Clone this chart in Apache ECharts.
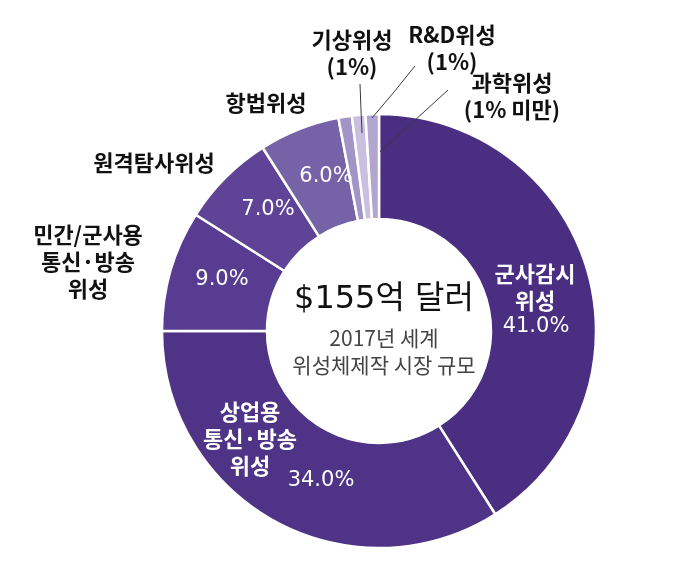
<!DOCTYPE html>
<html>
<head>
<meta charset="utf-8">
<script src="https://cdn.jsdelivr.net/npm/echarts@6/dist/echarts.min.js"></script>
<style>
html,body{margin:0;padding:0;background:#fff;}
#chart{width:674px;height:568px;}
</style>
</head>
<body>
<div id="chart"></div>
<script>
// ---- data ----
const categories = ['군사감시위성', '상업용 통신·방송 위성', '민간/군사용 통신·방송 위성', '원격탐사위성', '항법위성', '기상위성', 'R&D위성', '과학위성'];
const values = [41, 34, 9, 7, 6, 1, 1, 1];
const nameLabels = ['군사감시\n위성', '상업용\n통신·방송\n위성', '민간/군사용\n통신·방송\n위성', '원격탐사위성', '항법위성', '기상위성\n(1%)', 'R&D위성\n(1%)', '과학위성\n(1% 미만)'];
const pctLabels = ['41.0%', '34.0%', '9.0%', '7.0%', '6.0%', '', '', ''];
const centerTitle = '$155억 달러';
const centerSub = '2017년 세계\n위성체제작 시장 규모';

// ---- styles / positions ----
const colors = ['#4a2e82', '#4e3386', '#583c91', '#5e4396', '#7663a7', '#a294c6', '#c8c0de', '#b0a6d0'];
const nameColor = ['#fff', '#fff', '#111', '#111', '#111', '#111', '#111', '#111'];
const namePos = [[535, 287], [250, 439], [88, 262], [154, 163], [266, 103], [352, 53], [452, 48], [512, 96]];
const pctPos = [[536, 327], [321, 481], [222, 280], [268, 210], [326, 177]];
const linePts = {
  5: [[362, 133], [361, 110], [360, 84]],
  6: [[372, 118], [394, 92], [415, 66]],
  7: [[380, 152], [414, 121], [448, 90]]
};
const CENTER = [379, 331];
const RADIUS = [112, 217];

const chart = echarts.init(document.getElementById('chart'), null, {renderer: 'canvas'});

const pctData = categories.map((c, i) => ({
  name: c, value: values[i],
  itemStyle: {color: colors[i]}
}));
const nameData = categories.map((c, i) => ({
  name: c, value: values[i],
  labelLine: {show: i >= 5},
  label: {color: nameColor[i]}
}));

chart.setOption({
  animation: false,
  title: {
    text: centerTitle,
    subtext: centerSub,
    left: CENTER[0], top: 279, textAlign: 'center',
    itemGap: 9,
    textStyle: {fontFamily: 'DejaVu Sans, Noto Sans CJK KR', fontSize: 32, fontWeight: 'normal', color: '#111'},
    subtextStyle: {fontFamily: 'Noto Sans CJK KR', fontSize: 21, color: '#444', lineHeight: 27, align: 'center'}
  },
  series: [
    {
      type: 'pie', z: 2,
      center: CENTER, radius: RADIUS,
      startAngle: 90, clockwise: true,
      avoidLabelOverlap: false,
      silent: true,
      itemStyle: {borderColor: '#fff', borderWidth: 2.5},
      label: {
        show: true, position: 'inside',
        formatter: p => pctLabels[p.dataIndex],
        fontFamily: 'DejaVu Sans', fontSize: 21, color: '#fff'
      },
      labelLayout: p => {
        const pos = pctPos[p.dataIndex];
        if (!pos) return {};
        return {x: pos[0], y: pos[1], align: 'center', verticalAlign: 'middle'};
      },
      data: pctData
    },
    {
      type: 'pie', z: 5,
      center: CENTER, radius: RADIUS,
      startAngle: 90, clockwise: true,
      avoidLabelOverlap: false,
      silent: true,
      itemStyle: {color: 'rgba(0,0,0,0)', borderWidth: 0},
      label: {
        show: true, position: 'outside',
        formatter: p => nameLabels[p.dataIndex],
        fontFamily: 'Noto Sans CJK KR', fontSize: 22, fontWeight: 'bold',
        lineHeight: 27, align: 'center',
        color: '#111'
      },
      labelLine: {lineStyle: {color: '#3a3a3a', width: 1}},
      labelLayout: p => {
        const i = p.dataIndex;
        const pos = namePos[i];
        const o = {x: pos[0], y: pos[1], align: 'center', verticalAlign: 'middle'};
        if (linePts[i]) o.labelLinePoints = linePts[i];
        return o;
      },
      data: nameData
    }
  ]
});
</script>
</body>
</html>
